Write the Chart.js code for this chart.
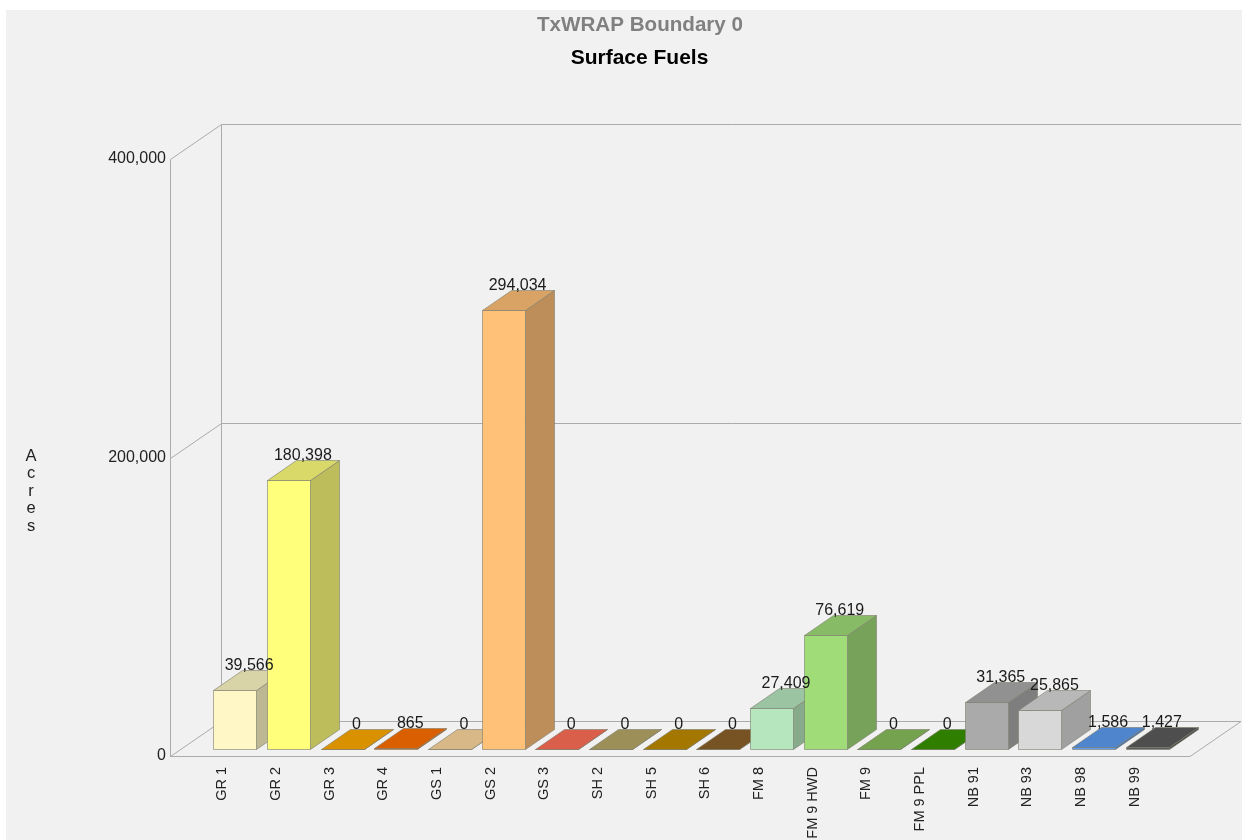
<!DOCTYPE html>
<html>
<head>
<meta charset="utf-8">
<title>TxWRAP Boundary 0 - Surface Fuels</title>
<script src="https://cdn.jsdelivr.net/npm/chart.js@4"></script>
<style>
  html, body { margin: 0; padding: 0; background: #fff; overflow: hidden; }
  canvas { display: block; }
</style>
</head>
<body>
<canvas id="chart" width="1242" height="840"></canvas>
<script>
'use strict';

/* ── DATA ── */
const categories = ['GR 1', 'GR 2', 'GR 3', 'GR 4', 'GS 1', 'GS 2', 'GS 3', 'SH 2', 'SH 5', 'SH 6',
  'FM 8', 'FM 9 HWD', 'FM 9', 'FM 9 PPL', 'NB 91', 'NB 93', 'NB 98', 'NB 99'];
const acres = [39566, 180398, 0, 865, 0, 294034, 0, 0, 0, 0,
  27409, 76619, 0, 0, 31365, 25865, 1586, 1427];
const barColors = ['#FFF8C6', '#FFFF7C', '#FFAA00', '#FF7000', '#FFD9A0', '#FFC078', '#FF7058', '#B8A868',
  '#C08C00', '#8C6028', '#B6E6BE', '#A0DC78', '#88BE5C', '#389400', '#AAAAAA', '#D8D8D8', '#5C9CF0', '#5C5C5C'];
const yTicks = [0, 200000, 400000];
const chartTitle = 'TxWRAP Boundary 0';
const chartSubtitle = 'Surface Fuels';
const yAxisTitle = 'Acres';

/* ── 3D GEOMETRY ── */
const WALL = { dx: 51, dy: -35 };   // depth of the chart box
const BAR_IN = { dx: 11, dy: -7 };  // front of a bar, measured from the front of the box
const BAR = { dx: 29, dy: -20 };    // depth of a bar

const fmt = n => n.toLocaleString('en-US');

function shade(hex, k) {
  const n = parseInt(hex.slice(1), 16);
  const c = s => Math.round(((n >> s) & 255) * k);
  return `rgb(${c(16)},${c(8)},${c(0)})`;
}

function poly(ctx, pts, fill, stroke) {
  ctx.beginPath();
  pts.forEach((p, i) => (i ? ctx.lineTo(p[0], p[1]) : ctx.moveTo(p[0], p[1])));
  ctx.closePath();
  if (fill) { ctx.fillStyle = fill; ctx.fill(); }
  if (stroke) { ctx.strokeStyle = stroke; ctx.stroke(); }
}

function line(ctx, x1, y1, x2, y2) {
  ctx.beginPath();
  ctx.moveTo(x1, y1);
  ctx.lineTo(x2, y2);
  ctx.stroke();
}

/* ── PLUGIN: background, box, 3D bars, texts ── */
const box3d = {
  id: 'box3d',
  beforeDraw(chart) {
    const { ctx, chartArea: a, scales: { y } } = chart;
    ctx.save();
    ctx.fillStyle = '#F1F1F1';
    ctx.fillRect(6, 10, chart.width - 6, chart.height - 10);

    ctx.strokeStyle = '#ABABAB';
    ctx.lineWidth = 1;
    yTicks.forEach(v => {
      const py = Math.round(y.getPixelForValue(v)) + 0.5;
      line(ctx, a.left + 0.5, py, a.left + WALL.dx + 0.5, py + WALL.dy);
      line(ctx, a.left + WALL.dx + 0.5, py + WALL.dy, a.right + WALL.dx, py + WALL.dy);
    });
    const top = Math.round(y.getPixelForValue(400000)) + 0.5;
    const zero = Math.round(y.getPixelForValue(0)) + 0.5;
    line(ctx, a.left + 0.5, top, a.left + 0.5, zero);
    line(ctx, a.left + WALL.dx + 0.5, top + WALL.dy, a.left + WALL.dx + 0.5, zero + WALL.dy);
    line(ctx, a.left, zero, a.right, zero);
    line(ctx, a.right, zero, a.right + WALL.dx, zero + WALL.dy);

    ctx.textAlign = 'center';
    ctx.textBaseline = 'alphabetic';
    ctx.font = 'bold 20.6px "Liberation Sans", Arial, sans-serif';
    ctx.fillStyle = '#808080';
    ctx.fillText(chartTitle, 640, 31);
    ctx.font = 'bold 21px "Liberation Sans", Arial, sans-serif';
    ctx.fillStyle = '#000';
    ctx.fillText(chartSubtitle, 639.5, 63.5);

    ctx.font = '16.5px "Liberation Sans", Arial, sans-serif';
    ctx.fillStyle = '#222';
    [...yAxisTitle].forEach((ch, i) => ctx.fillText(ch, 31, 460.5 + i * 17.5));
    ctx.restore();
  },
  // the three faces replace the flat bar chart.js would paint
  beforeDatasetDraw(chart, args) {
    const { ctx } = chart;
    ctx.save();
    ctx.lineWidth = 1;
    ctx.lineJoin = 'round';
    args.meta.data.forEach((el, i) => {
      if (el.skip || acres[i - 1] == null) return;
      const color = barColors[i - 1];
      const edge = 'rgba(125,125,110,0.6)';
      const w = el.width;
      const x0 = Math.round(el.x - w / 2 + BAR_IN.dx) + 0.5;
      const x1 = x0 + w;
      const yb = Math.round(el.base + BAR_IN.dy) + 0.5;
      const yt = Math.round(el.y + BAR_IN.dy) + 0.5;
      const d = BAR;
      poly(ctx, [[x1, yt], [x1 + d.dx, yt + d.dy], [x1 + d.dx, yb + d.dy], [x1, yb]], shade(color, 0.74), edge);
      poly(ctx, [[x0, yb], [x1, yb], [x1, yt], [x0, yt]], color, edge);
      poly(ctx, [[x0, yt], [x1, yt], [x1 + d.dx, yt + d.dy], [x0 + d.dx, yt + d.dy]], shade(color, 0.85), edge);
    });
    ctx.restore();
    return false;
  },
  afterDatasetsDraw(chart) {
    const { ctx } = chart;
    const meta = chart.getDatasetMeta(0);
    ctx.save();
    ctx.font = '16px "Liberation Sans", Arial, sans-serif';
    ctx.fillStyle = '#1A1A1A';
    ctx.textAlign = 'center';
    ctx.textBaseline = 'alphabetic';
    acres.forEach((v, i) => {
      const el = meta.data[i + 1];
      ctx.fillText(fmt(v), el.x + BAR_IN.dx + BAR.dx / 2, el.y + BAR_IN.dy + BAR.dy);
    });
    ctx.restore();
  },
};

/* ── CHART ── */
// blank slots at both ends: the first tick sits one step in from the box corner
new Chart(document.getElementById('chart'), {
  type: 'bar',
  data: {
    labels: ['', ...categories, ''],
    datasets: [{
      label: yAxisTitle,
      data: [null, ...acres, null],
      backgroundColor: barColors,
      barThickness: 43,
    }],
  },
  plugins: [box3d],
  options: {
    responsive: false,
    animation: false,
    layout: { padding: { top: 159, right: 52 } },
    plugins: {
      legend: { display: false },
      tooltip: { enabled: false },
      title: { display: false },
    },
    scales: {
      x: {
        offset: false,
        afterFit: s => { s.height = 84; },
        grid: { display: false, drawTicks: false },
        border: { display: false },
        ticks: {
          autoSkip: false,
          minRotation: 90,
          maxRotation: 90,
          padding: 11,
          labelOffset: -1.5,
          color: '#222',
          font: { family: '"Liberation Sans", Arial, sans-serif', size: 14.5 },
        },
      },
      y: {
        min: 0,
        max: 400000,
        afterFit: s => { s.width = 170; },
        afterBuildTicks: s => { s.ticks = yTicks.map(value => ({ value })); },
        grid: { display: false, drawTicks: false },
        border: { display: false },
        ticks: {
          padding: 4,
          color: '#222',
          font: { family: '"Liberation Sans", Arial, sans-serif', size: 16 },
          callback: v => fmt(v),
        },
      },
    },
  },
});
</script>
</body>
</html>
